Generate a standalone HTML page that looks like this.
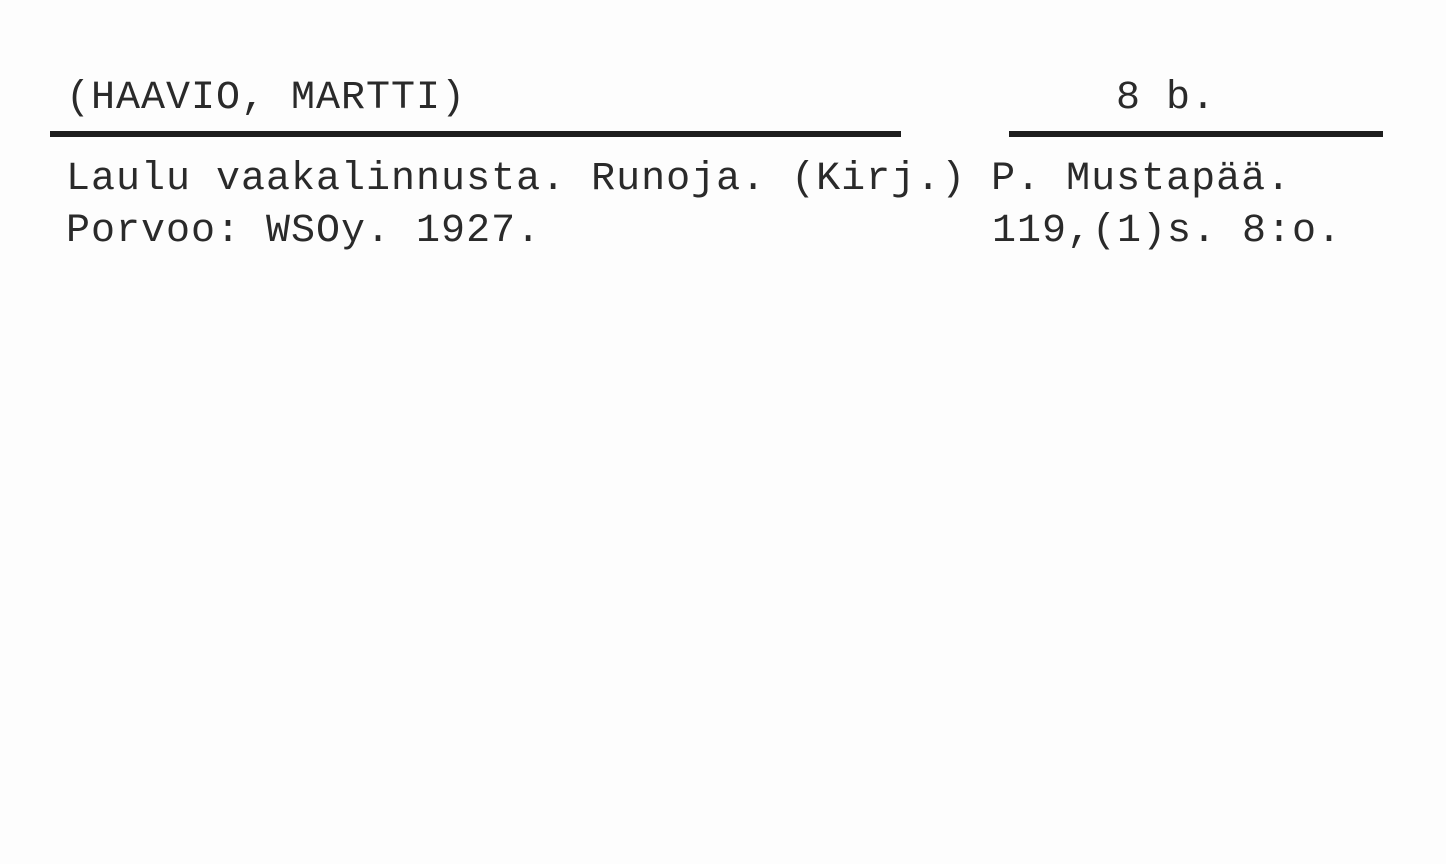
<!DOCTYPE html>
<html>
<head>
<meta charset="utf-8">
<style>
html,body{margin:0;padding:0;}
body{width:1446px;height:864px;background:#fdfdfd;position:relative;overflow:hidden;
font-family:"Liberation Mono",monospace;color:#2a2a2a;}
.t{position:absolute;font-size:40px;line-height:40px;white-space:pre;letter-spacing:1px;}
.r{position:absolute;background:#1e1e1e;height:6px;}
</style>
</head>
<body>
<div class="t" style="left:66px;top:79px;">(HAAVIO, MARTTI)</div>
<div class="t" style="left:1116px;top:79px;">8 b.</div>
<div class="r" style="left:50px;top:131px;width:851px;"></div>
<div class="r" style="left:1009px;top:131px;width:374px;"></div>
<div class="t" style="left:66px;top:160px;">Laulu vaakalinnusta. Runoja. (Kirj.) P. Mustapää.</div>
<div class="t" style="left:66px;top:212px;">Porvoo: WSOy. 1927.</div>
<div class="t" style="left:992px;top:212px;">119,(1)s. 8:o.</div>
</body>
</html>
